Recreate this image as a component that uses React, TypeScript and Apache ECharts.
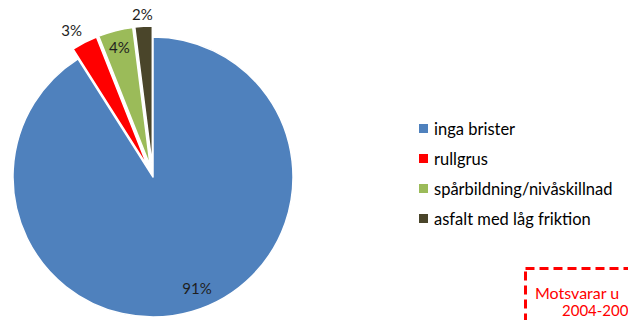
import React, { useEffect, useRef } from "react";
import * as echarts from "echarts";

const categories = ["inga brister", "rullgrus", "spårbildning/nivåskillnad", "asfalt med låg friktion"];
const values = [91, 3, 4, 2];
const colors = ["#4F81BD", "#FF0000", "#9BBB59", "#4A452A"];
const exploded = [false, true, true, true];
// per-slice label placement tuning (labelLine length, length2)
const labelLen = [-24, 14, -17, 12];
const labelLen2 = [-8, -9, -15, -15];
const noteLines = ["Motsvarar u", "2004-200"];

export default function App() {
  const ref = useRef<HTMLDivElement>(null);
  useEffect(() => {
    if (!ref.current) return;
    const chart = echarts.init(ref.current, undefined, { renderer: "svg" });
    const font = "Lato, 'Open Sans', sans-serif";
    chart.setOption({
      animation: false,
      legend: {
        orient: "vertical",
        left: 412,
        top: 115,
        itemWidth: 11,
        itemHeight: 11,
        itemGap: 13,
        icon: "rect",
        selectedMode: false,
        data: categories,
        textStyle: { fontSize: 16.5, fontFamily: font, color: "#000" },
      },
      graphic: [
        {
          type: "rect",
          left: 523,
          top: 266,
          shape: { width: 200, height: 100 },
          style: { fill: "none", stroke: "#FF0000", lineWidth: 3, lineDash: [9, 5] },
          silent: true,
        },
        {
          type: "text",
          left: 535,
          top: 284,
          style: { text: noteLines[0], fill: "#FF0000", font: `16px ${font}` },
          silent: true,
        },
        {
          type: "text",
          left: 562,
          top: 302,
          style: { text: noteLines[1], fill: "#FF0000", font: `15px ${font}` },
          silent: true,
        },
      ],
      series: [
        {
          type: "pie",
          center: [153, 177],
          radius: 140,
          startAngle: 90,
          clockwise: true,
          selectedMode: "multiple",
          selectedOffset: 11,
          avoidLabelOverlap: false,
          emphasis: { disabled: true },
          select: { itemStyle: { borderColor: "#fff", borderWidth: 1.5 } },
          itemStyle: { borderColor: "#fff", borderWidth: 1.5 },
          label: {
            show: true,
            position: "outside",
            formatter: "{d}%",
            fontSize: 15,
            fontFamily: font,
            color: "#1f1f1f",
            distanceToLabelLine: 5,
          },
          labelLine: { show: false },
          data: categories.map((name, i) => ({
            name,
            value: values[i],
            selected: exploded[i],
            itemStyle: { color: colors[i] },
            labelLine: { show: false, length: labelLen[i], length2: labelLen2[i] },
          })),
        },
      ],
    });
    return () => chart.dispose();
  }, []);
  return (
    <div
      ref={ref}
      style={{ position: "fixed", left: 0, top: 0, width: 628, height: 320, background: "#fff" }}
    />
  );
}
